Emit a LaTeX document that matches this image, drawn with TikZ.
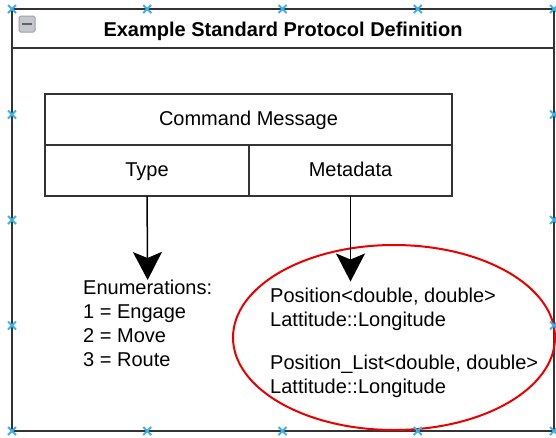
\documentclass[tikz,border=0pt]{standalone}
\usepackage[RGB]{xcolor}
\usepackage{fontspec}
\setmainfont{Liberation Sans}
\usetikzlibrary{arrows.meta,shapes.geometric}
\definecolor{frameline}{RGB}{51,51,51}
\definecolor{handle}{RGB}{60,176,232}
\definecolor{ring}{RGB}{235,0,0}
\definecolor{iconfill}{RGB}{196,199,206}
\definecolor{icondash}{RGB}{96,99,106}
\newcommand{\drawhandle}[2]{\draw[handle,line width=2pt] (#1-4,#2-4)--(#1+4,#2+4) (#1-4,#2+4)--(#1+4,#2-4);}
\newcommand{\drawthin}{\draw[frameline,line width=2pt]}
\tikzset{
  bodyfont/.style={font=\fontsize{20}{24}\selectfont},
  cell/.style={draw=frameline,line width=2pt,bodyfont,minimum height=51pt,inner sep=0pt,outer sep=0pt,text height=15pt,text depth=3pt},
  txt/.style={bodyfont,align=left,inner sep=0pt,anchor=north west},
  bigarrow/.style={-{Stealth[length=28pt,width=29pt,inset=6pt]},line width=1.5pt},
}

\begin{document}
\begin{tikzpicture}[x=1pt,y=-1pt]
\useasboundingbox (0,0) rectangle (556,437);
\drawthin (12,9) rectangle (554,431);
\drawthin (12,48)--(554,48);
\draw[draw=icondash!60,fill=iconfill,line width=1pt,rounded corners=1.5pt] (19,16) rectangle (35,32);
\draw[icondash,line width=2.5pt] (22,24)--(32,24);
\node[font=\fontsize{20}{24}\selectfont\bfseries,anchor=base] (title) at (283,36) {Example Standard Protocol Definition};
% message table
\node[cell,minimum width=407pt] (cmdmsg) at (248.5,119.5) {Command Message};
\node[cell,minimum width=204pt,anchor=north west] (typecell) at (cmdmsg.south west) {Type};
\node[cell,minimum width=203pt,anchor=north east] (metacell) at (cmdmsg.south east) {Metadata};
% contents
\node[txt] (enumtxt) at (83,280) {Enumerations:\\1 = Engage\\2 = Move\\3 = Route};
\node[txt] (postxt) at (270,287.5) {Position<double, double>\\Lattitude::Longitude\\[19pt]Position\_List<double, double>\\Lattitude::Longitude};
\node[draw=ring,line width=2pt,ellipse,minimum width=322pt,minimum height=185pt,inner sep=0pt] (posring) at (394,337.5) {};
\draw[bigarrow] (typecell.south)--(enumtxt.north);
\draw[bigarrow] (metacell.south)--([yshift=6pt]metacell.south |- postxt.north);
% selection handles
\foreach \x in {12,147.25,282.5,417.75,554}{\drawhandle{\x}{9}\drawhandle{\x}{431}}
\foreach \y in {114.5,220,325.5}{\drawhandle{12}{\y}\drawhandle{554}{\y}}
\end{tikzpicture}
\end{document}
